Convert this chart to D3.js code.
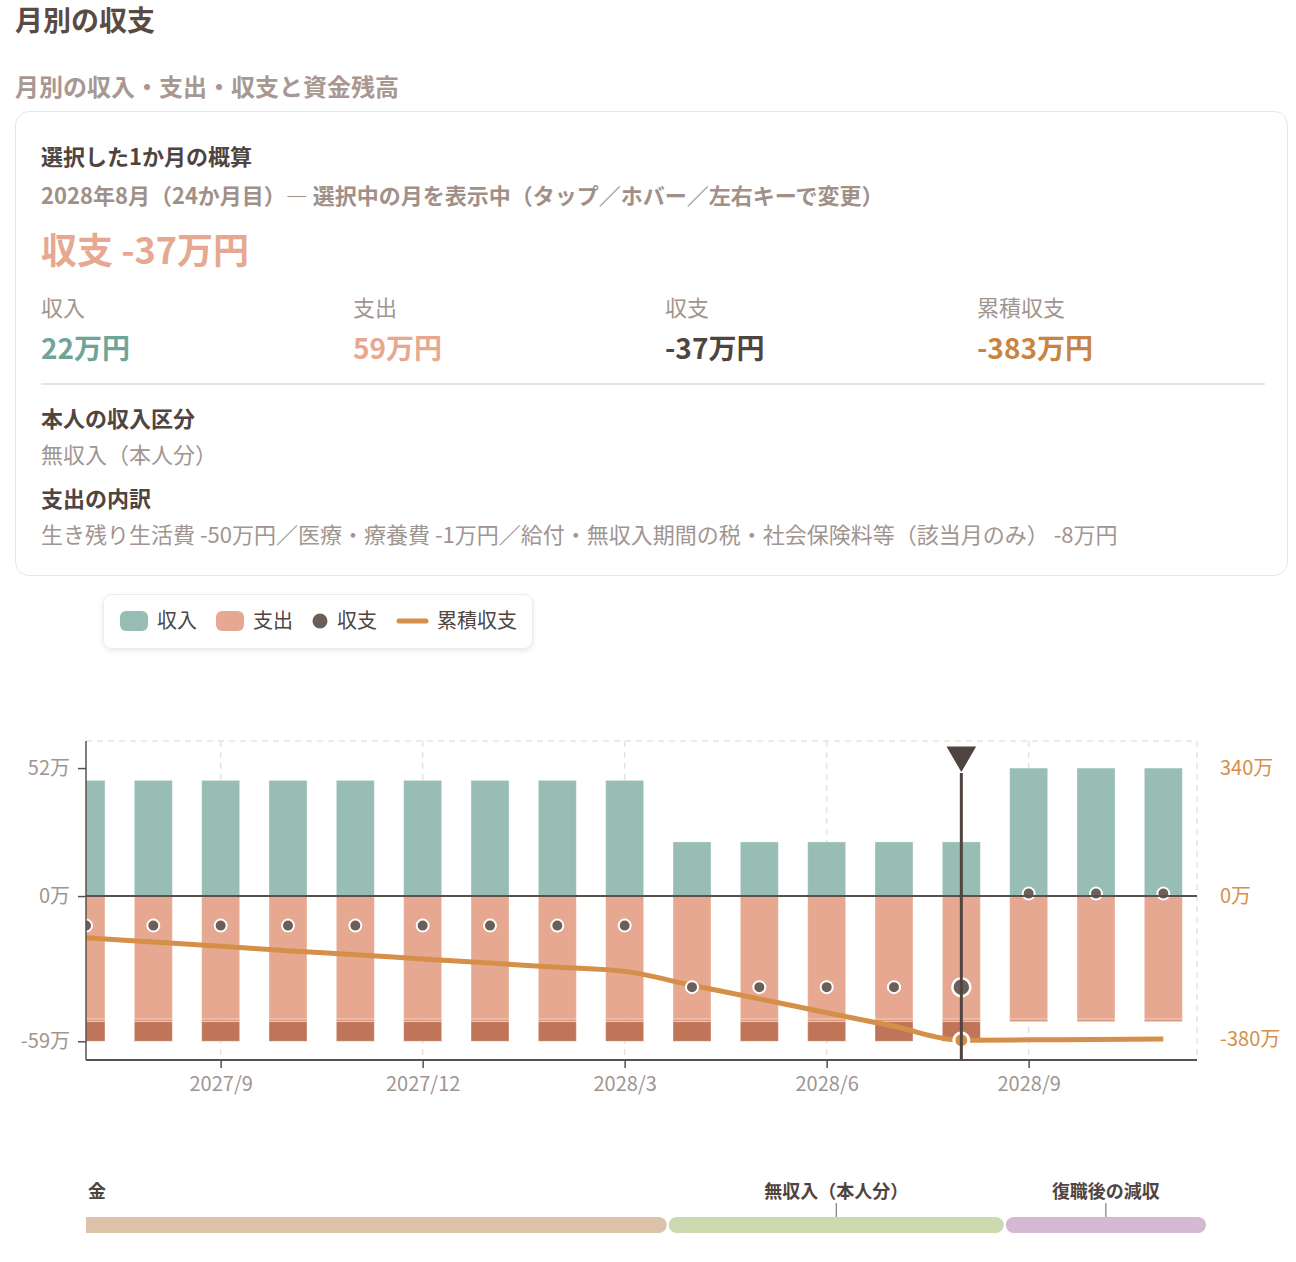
<!DOCTYPE html>
<html lang="ja">
<head>
<meta charset="utf-8">
<script src="https://cdn.jsdelivr.net/npm/d3@7"></script>
<style>
  body { margin: 0; background: #fff; font-family: "Noto Sans CJK JP", "Noto Sans", sans-serif; color: #4f4440; }
  #page { position: relative; width: 1296px; height: 1262px; overflow: hidden; }
  .abs { position: absolute; white-space: nowrap; line-height: 30px; }
  .title { left: 15px; top: 4px; font-size: 28px; font-weight: 700; color: #5b4a42; }
  .subtitle { left: 15px; top: 71px; font-size: 24px; font-weight: 700; color: #a89891; }
  #card { position: absolute; left: 15px; top: 111px; width: 1271px; height: 463px; border: 1.5px solid #ebe6e3; border-radius: 14px; }
  .b { font-weight: 700; }
  .muted { color: #a09590; }
  #legend { position: absolute; left: 103px; top: 594px; width: 428px; height: 53px; border: 1px solid #efebea; border-radius: 9px; box-shadow: 0 2px 5px rgba(120,100,100,0.15); }
  svg { position: absolute; left: 0; top: 700px; }
</style>
</head>
<body>
<div id="page">
  <div class="abs title">月別の収支</div>
  <div class="abs subtitle">月別の収入・支出・収支と資金残高</div>
  <div id="card"></div>
  <div id="legend"></div>
</div>
<script>
// months shown in the chart
var months = ["2027/7","2027/8","2027/9","2027/10","2027/11","2027/12","2028/1","2028/2","2028/3",
              "2028/4","2028/5","2028/6","2028/7","2028/8","2028/9","2028/10","2028/11"];
// 万円
var income      = [47,47,47,47,47,47,47,47,47, 22,22,22,22,22, 52,52,52];
var livingCost  = [50,50,50,50,50,50,50,50,50, 50,50,50,50,50, 50,50,50];
var medicalCost = [1,1,1,1,1,1,1,1,1, 1,1,1,1,1, 1,1,1];
var taxCost     = [8,8,8,8,8,8,8,8,8, 8,8,8,8,8, 0,0,0];
var netBalance  = [-12,-12,-12,-12,-12,-12,-12,-12,-12, -37,-37,-37,-37,-37, 1,1,1];
var cumulative  = [-111,-122,-133,-145,-156,-167,-178,-189,-200, -237,-273,-310,-346,-383, -382,-381,-380];

var leftTicks  = [52, 0, -59];
var rightTicks = [340, 0, -380];
var xTickMonths = ["2027/9","2027/12","2028/3","2028/6","2028/9"];

var phaseLabels = ["金", "無収入（本人分）", "復職後の減収"];
var phaseFirst  = ["2027/7", "2028/4", "2028/9"];
var phaseLast   = ["2028/3", "2028/8", "2028/11"];
var phaseColors = ["#dcc2a8", "#ccdab0", "#d5b9d2"];

var selected = "2028/8";

var col = {
  income: "#97bdb4", living: "#e6a890", medical: "#d9987a", tax: "#c07558",
  net: "#6b5f59", cum: "#d68f48", axis: "#5a504b", tick: "#a09590", grid: "#e6e2e0"
};

// ---------- summary card ----------
var si = months.indexOf(selected);
var card = d3.select("#card");
function line(top, left, size, text, cls, color) {
  return card.append("div").attr("class", "abs " + (cls || ""))
    .style("left", left + "px").style("top", top + "px")
    .style("font-size", size + "px").style("color", color || null)
    .text(text);
}
line(28, 25, 22, "選択した1か月の概算", "b");
line(67, 25, 22, "2028年8月（24か月目）— 選択中の月を表示中（タップ／ホバー／左右キーで変更）", "b", "#a09088");
line(121, 25, 36, "収支 " + netBalance[si] + "万円", "b", "#e6a890");

var expenseTotal = livingCost[si] + medicalCost[si] + taxCost[si];
var stats = [
  ["収入", income[si] + "万円", "#6fa598"],
  ["支出", expenseTotal + "万円", "#e8a88f"],
  ["収支", netBalance[si] + "万円", "#4f4440"],
  ["累積収支", cumulative[si] + "万円", "#c98444"]
];
stats.forEach(function(s, i) {
  line(179, 25 + i * 312, 22, s[0], "muted");
  line(220, 25 + i * 312, 28, s[1], "b", s[2]);
});
card.append("div").style("position", "absolute").style("left", "25px").style("top", "271px")
  .style("width", "1224px").style("height", "1.5px").style("background", "#e9e4e1");
line(290, 25, 22, "本人の収入区分", "b");
line(326, 25, 22, "無収入（本人分）", "muted");
line(370, 25, 22, "支出の内訳", "b");
line(406, 25, 22, "生き残り生活費 -" + livingCost[si] + "万円／医療・療養費 -" + medicalCost[si] +
  "万円／給付・無収入期間の税・社会保険料等（該当月のみ） -" + taxCost[si] + "万円", "muted");

// ---------- legend ----------
var lg = d3.select("#legend").append("svg").attr("width", 428).attr("height", 53)
  .style("position", "static");
lg.append("rect").attr("x", 16).attr("y", 16).attr("width", 28).attr("height", 20).attr("rx", 6).attr("fill", col.income);
lg.append("rect").attr("x", 112).attr("y", 16).attr("width", 28).attr("height", 20).attr("rx", 6).attr("fill", col.living);
lg.append("circle").attr("cx", 216).attr("cy", 26).attr("r", 7.5).attr("fill", col.net);
lg.append("line").attr("x1", 295).attr("x2", 322).attr("y1", 26).attr("y2", 26)
  .attr("stroke", col.cum).attr("stroke-width", 5).attr("stroke-linecap", "round");
[["収入", 53], ["支出", 149], ["収支", 233], ["累積収支", 333]].forEach(function(t) {
  lg.append("text").attr("x", t[1]).attr("y", 33).attr("font-size", 20).attr("fill", "#4f4440").text(t[0]);
});

// ---------- chart ----------
var margin = { left: 86, top: 41 };
var width = 1111, height = 319;
var svg = d3.select("#page").append("svg").attr("width", 1296).attr("height", 562);
var g = svg.append("g").attr("transform", "translate(" + margin.left + "," + margin.top + ")");

var x = d3.scaleLinear().domain([0, 16.5]).range([0, width]);
var barW = 38;
var y = d3.scaleLinear().domain([-66.6, 63]).range([height, 0]);
var y2 = d3.scaleLinear().domain([-66.6 * 340 / 52, 63 * 340 / 52]).range([height, 0]);

svg.append("defs").append("clipPath").attr("id", "plot")
  .append("rect").attr("x", 0).attr("y", -40).attr("width", width).attr("height", height + 40);

// grid
g.append("line").attr("x1", 0).attr("x2", width).attr("y1", 0).attr("y2", 0)
  .attr("stroke", col.grid).attr("stroke-width", 1.5).attr("stroke-dasharray", "6,5");
g.append("line").attr("x1", width).attr("x2", width).attr("y1", 0).attr("y2", height)
  .attr("stroke", col.grid).attr("stroke-width", 1.5).attr("stroke-dasharray", "6,5");
g.selectAll(".vgrid").data(xTickMonths).enter().append("line")
  .attr("x1", function(d) { return x(months.indexOf(d)); })
  .attr("x2", function(d) { return x(months.indexOf(d)); })
  .attr("y1", 0).attr("y2", height)
  .attr("stroke", col.grid).attr("stroke-width", 1.5).attr("stroke-dasharray", "6,5");

var plot = g.append("g").attr("clip-path", "url(#plot)");
var idx = d3.range(months.length);

function bars(cls, color, top, bottom) {
  plot.selectAll("." + cls).data(idx).enter().append("rect")
    .attr("class", cls)
    .attr("x", function(i) { return x(i) - barW / 2; })
    .attr("width", barW)
    .attr("y", function(i) { return y(top(i)); })
    .attr("height", function(i) { return Math.max(0, y(bottom(i)) - y(top(i))); })
    .attr("fill", color)
    .attr("stroke", "#fff").attr("stroke-opacity", 0.35).attr("stroke-width", 1);
}
bars("inc", col.income, function(i) { return income[i]; }, function() { return 0; });
bars("liv", col.living, function() { return 0; }, function(i) { return -livingCost[i]; });
bars("med", col.medical, function(i) { return -livingCost[i]; }, function(i) { return -livingCost[i] - medicalCost[i]; });
bars("tax", col.tax, function(i) { return -livingCost[i] - medicalCost[i]; },
  function(i) { return -livingCost[i] - medicalCost[i] - taxCost[i]; });

// zero line
g.append("line").attr("x1", 0).attr("x2", width).attr("y1", y(0)).attr("y2", y(0))
  .attr("stroke", col.axis).attr("stroke-width", 2);

// cumulative line
var cumLine = d3.line().x(function(i) { return x(i); }).y(function(i) { return y2(cumulative[i]); })
  .curve(d3.curveMonotoneX);
plot.append("path").datum(idx).attr("d", cumLine)
  .attr("fill", "none").attr("stroke", col.cum).attr("stroke-width", 5);

// selected marker
var sx = x(si);
g.append("line").attr("x1", sx).attr("x2", sx).attr("y1", 32).attr("y2", height)
  .attr("stroke", "#4f4440").attr("stroke-width", 3);
g.append("path").attr("d", d3.symbol().type(d3.symbolTriangle).size(380))
  .attr("transform", "translate(" + sx + ",14) rotate(180)").attr("fill", "#4f4440");

// net dots
plot.selectAll(".net").data(idx).enter().append("circle")
  .attr("cx", function(i) { return x(i); })
  .attr("cy", function(i) { return y(netBalance[i]); })
  .attr("r", function(i) { return i === si ? 9 : 6; })
  .attr("fill", col.net).attr("stroke", "#fff").attr("stroke-width", function(i) { return i === si ? 2.5 : 2; });

plot.append("circle").attr("cx", sx).attr("cy", y2(cumulative[si])).attr("r", 7.5)
  .attr("fill", col.cum).attr("stroke", "#fff").attr("stroke-width", 3);

// axes
var yAxis = d3.axisLeft(y).tickValues(leftTicks).tickSize(8).tickPadding(8)
  .tickFormat(function(d) { return d + "万"; });
var yAxisG = g.append("g").call(yAxis);
yAxisG.select(".domain").attr("stroke", col.axis).attr("stroke-width", 1.5).attr("d", "M0,0V" + height);
yAxisG.selectAll(".tick line").attr("stroke", col.axis).attr("stroke-width", 1.5);
yAxisG.selectAll("text").attr("fill", col.tick).attr("font-size", 20).attr("font-family", "Noto Sans CJK JP");

var y2Axis = d3.axisRight(y2).tickValues(rightTicks).tickSize(0).tickPadding(23)
  .tickFormat(function(d) { return d + "万"; });
var y2G = g.append("g").attr("transform", "translate(" + width + ",0)").call(y2Axis);
y2G.select(".domain").remove();
y2G.selectAll("text").attr("fill", col.cum).attr("font-size", 20).attr("font-family", "Noto Sans CJK JP");

var xAxis = d3.axisBottom(x).tickValues(xTickMonths.map(function(m) { return months.indexOf(m); }))
  .tickSize(8).tickPadding(9).tickFormat(function(i) { return months[i]; });
var xG = g.append("g").attr("transform", "translate(0," + height + ")").call(xAxis);
xG.select(".domain").attr("stroke", col.axis).attr("stroke-width", 2).attr("d", "M0,0H" + width);
xG.selectAll(".tick line").attr("stroke", col.axis).attr("stroke-width", 1.5);
xG.selectAll("text").attr("fill", col.tick).attr("font-size", 20).attr("font-family", "Noto Sans CJK JP");

// ---------- phase timeline ----------
var xp = d3.scaleLinear().domain([-0.5, 16.5]).range([61, 1207]);
svg.append("clipPath").attr("id", "phaseClip")
  .append("rect").attr("x", 86).attr("y", 480).attr("width", 1200).attr("height", 80);
var ph = svg.append("g").attr("clip-path", "url(#phaseClip)");
phaseLabels.forEach(function(label, k) {
  var x0 = xp(months.indexOf(phaseFirst[k]) - 0.5) + 1;
  var x1 = xp(months.indexOf(phaseLast[k]) + 0.5) - 1;
  ph.append("rect").attr("x", x0).attr("y", 517).attr("width", x1 - x0).attr("height", 16)
    .attr("rx", 8).attr("fill", phaseColors[k]);
  var cx = k === 0 ? 88 : (x0 + x1) / 2;
  ph.append("text").attr("x", cx).attr("y", 498).attr("font-size", 18).attr("font-weight", 700)
    .attr("text-anchor", k === 0 ? "start" : "middle").attr("fill", "#4f4440").text(label);
  if (k > 0) {
    ph.append("line").attr("x1", cx).attr("x2", cx).attr("y1", 503).attr("y2", 517)
      .attr("stroke", "#6b5f59").attr("stroke-width", 1);
  }
});
</script>
</body>
</html>
